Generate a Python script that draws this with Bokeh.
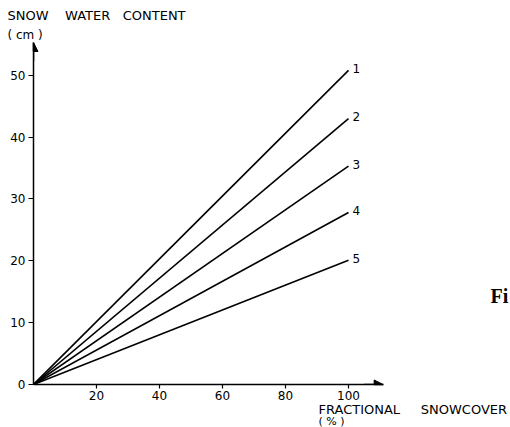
from bokeh.plotting import figure
from bokeh.models import (ColumnDataSource, Range1d, FixedTicker, Label, Arrow, NormalHead, Title)
from bokeh.core.properties import value
from bokeh.embed import file_html
from bokeh.resources import INLINE

# ---- data ----
curve_ids = ["1", "2", "3", "4", "5"]
cover_start = [0, 0, 0, 0, 0]           # fractional snowcover (%)
cover_end = [100, 100, 100, 100, 100]
swc_start = [0, 0, 0, 0, 0]             # snow water content (cm)
swc_end = [50.8, 43.0, 35.3, 27.8, 20.1]
x_ticks = [20, 40, 60, 80, 100]
y_ticks = [0, 10, 20, 30, 40, 50]
x_axis_max = 111
y_axis_max = 55.3

# ---- layout constants (canvas px) ----
W, H = 510, 427
FL, FR, FT, FB = 33, 510, 42, 384
PXX = 3.15
PXY = (FB - FT) / y_axis_max
x_view_max = (FR - FL) / PXX

FONT = "DejaVu Sans"

p = figure(width=W, height=H, output_backend="svg", toolbar_location=None,
           x_range=Range1d(0, x_view_max), y_range=Range1d(0, y_axis_max),
           min_border_left=FL, min_border_right=W - FR,
           min_border_top=FT, min_border_bottom=H - FB)
p.outline_line_color = None
p.grid.visible = False
p.background_fill_color = "white"
p.border_fill_color = "white"

for ax, ticks, tout, stand, bnds in ((p.xaxis[0], x_ticks, 4, 2, (0, x_axis_max)),
                                     (p.yaxis[0], y_ticks, 5, 3, (0, y_axis_max))):
    ax.ticker = FixedTicker(ticks=ticks)
    ax.bounds = bnds
    ax.axis_line_width = 1.5
    ax.axis_line_color = "black"
    ax.major_tick_line_color = "black"
    ax.major_tick_line_width = 1.2
    ax.major_tick_out = tout
    ax.major_tick_in = 0
    ax.minor_tick_line_color = None
    ax.major_label_text_font = FONT
    ax.major_label_text_font_size = "12px"
    ax.major_label_text_color = "black"
    ax.major_label_standoff = stand

src = ColumnDataSource(dict(x0=cover_start, y0=swc_start, x1=cover_end, y1=swc_end, lab=curve_ids))
p.segment(x0="x0", y0="y0", x1="x1", y1="y1", source=src, line_color="black", line_width=1.6)
p.text(x="x1", y="y1", text="lab", source=src, x_offset=4, y_offset=-2,
       text_font=value(FONT), text_font_size="12px", text_color="black",
       text_align="left", text_baseline="middle")

# axis arrow heads
p.add_layout(Arrow(end=NormalHead(size=9, fill_color="black", line_color="black"),
                   x_start=x_axis_max - 6, y_start=0, x_end=x_axis_max, y_end=0, line_width=1.5))
p.add_layout(Arrow(end=NormalHead(size=9, fill_color="black", line_color="black"),
                   x_start=0, y_start=y_axis_max - 3, x_end=0, y_end=y_axis_max, line_width=1.5))

S = "\u00a0"


def title(text, size, offset, standoff=0):
    return Title(text=text, align="left", offset=offset, standoff=standoff,
                 text_font=FONT, text_font_size=size, text_font_style="normal",
                 text_color="black")


# above: first added is closest to the frame
p.add_layout(title("( cm )", "12px", 7 - FL, 2), "above")
p.add_layout(title("SNOW " + S * 3 + "WATER " + S * 2 + "CONTENT", "13px", 7 - FL, 4), "above")
# below
p.add_layout(title("FRACTIONAL " + S * 4 + "SNOWCOVER", "13px", 318 - FL, -5), "below")
p.add_layout(title("( % )", "11px", 318 - FL, -3), "below")

# cropped caption at the right
p.add_layout(Label(x=(490 - FL) / PXX, y=(FB - 295) / PXY, text="Fi",
                   text_font="Liberation Serif", text_font_size="20px", text_font_style="bold",
                   text_color="black", text_align="left", text_baseline="alphabetic"))

open("out.html", "w").write(file_html(p, INLINE))
